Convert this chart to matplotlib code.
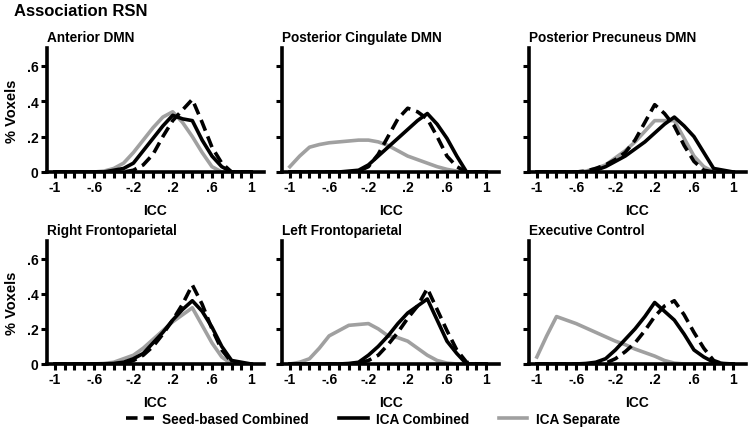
import matplotlib
matplotlib.use("Agg")
import matplotlib.pyplot as plt

plt.rcParams["font.family"] = ["Liberation Sans", "DejaVu Sans"]
plt.rcParams["font.weight"] = "bold"

# ICC bin centres
icc = [-1.0, -0.9, -0.8, -0.7, -0.6, -0.5, -0.4, -0.3, -0.2, -0.1, 0.0,
       0.1, 0.2, 0.3, 0.4, 0.5, 0.6, 0.7, 0.8, 0.9, 1.0]

titles = ["Anterior DMN", "Posterior Cingulate DMN", "Posterior Precuneus DMN",
          "Right Frontoparietal", "Left Frontoparietal", "Executive Control"]

# fraction of voxels per ICC bin
seed_combined = [
    [0, 0, 0, 0, 0, 0, 0, 0, 0.01, 0.04, 0.10, 0.20, 0.29, 0.35, 0.41, 0.28, 0.14, 0.05, 0, 0, 0],
    [0, 0, 0, 0, 0, 0, 0, 0.005, 0.03, 0.10, 0.20, 0.30, 0.36, 0.34, 0.30, 0.20, 0.09, 0.03, 0, 0, 0],
    [0, 0, 0, 0, 0, 0.005, 0.02, 0.04, 0.07, 0.11, 0.18, 0.28, 0.38, 0.33, 0.26, 0.15, 0.06, 0.01, 0, 0, 0],
    [0, 0, 0, 0, 0, 0, 0, 0.005, 0.02, 0.05, 0.10, 0.17, 0.25, 0.34, 0.45, 0.34, 0.20, 0.08, 0.01, 0, 0],
    [0, 0, 0, 0, 0, 0, 0, 0.005, 0.02, 0.05, 0.11, 0.18, 0.26, 0.33, 0.43, 0.31, 0.19, 0.08, 0.01, 0, 0],
    [0, 0, 0, 0, 0, 0, 0, 0.005, 0.03, 0.07, 0.12, 0.19, 0.27, 0.33, 0.36, 0.28, 0.18, 0.09, 0.02, 0, 0],
]
ica_combined = [
    [0, 0, 0, 0, 0, 0, 0.01, 0.02, 0.05, 0.12, 0.19, 0.26, 0.32, 0.30, 0.29, 0.18, 0.09, 0.03, 0, 0, 0],
    [0, 0, 0, 0, 0, 0, 0.005, 0.01, 0.04, 0.09, 0.14, 0.19, 0.24, 0.29, 0.33, 0.27, 0.19, 0.09, 0, 0, 0],
    [0, 0, 0, 0, 0, 0, 0.01, 0.03, 0.06, 0.09, 0.13, 0.17, 0.22, 0.27, 0.31, 0.26, 0.20, 0.11, 0.02, 0.01, 0],
    [0, 0, 0, 0, 0, 0, 0.003, 0.01, 0.03, 0.06, 0.12, 0.18, 0.25, 0.31, 0.36, 0.30, 0.21, 0.10, 0.02, 0.01, 0],
    [0, 0, 0, 0, 0, 0, 0.003, 0.01, 0.05, 0.10, 0.16, 0.23, 0.29, 0.33, 0.37, 0.25, 0.13, 0.06, 0, 0, 0],
    [0, 0, 0, 0, 0, 0.003, 0.01, 0.03, 0.08, 0.14, 0.20, 0.27, 0.35, 0.30, 0.25, 0.17, 0.08, 0.04, 0.01, 0.003, 0],
]
ica_separate = [
    [0, 0, 0, 0, 0, 0.005, 0.02, 0.05, 0.11, 0.18, 0.25, 0.31, 0.34, 0.28, 0.20, 0.11, 0.03, 0, 0, 0, 0],
    [0.03, 0.09, 0.14, 0.155, 0.165, 0.17, 0.175, 0.18, 0.18, 0.17, 0.15, 0.12, 0.09, 0.07, 0.05, 0.03, 0.015, 0.005, 0, 0, 0],
    [0, 0, 0, 0, 0, 0.005, 0.02, 0.04, 0.08, 0.12, 0.17, 0.23, 0.29, 0.29, 0.29, 0.19, 0.09, 0.03, 0, 0, 0],
    [0, 0, 0, 0, 0, 0.003, 0.01, 0.03, 0.05, 0.09, 0.14, 0.19, 0.24, 0.28, 0.32, 0.22, 0.12, 0.04, 0, 0, 0],
    [0, 0.01, 0.03, 0.09, 0.16, 0.19, 0.22, 0.225, 0.23, 0.20, 0.16, 0.15, 0.13, 0.09, 0.05, 0.02, 0.005, 0, 0, 0, 0],
    [0.04, 0.16, 0.27, 0.25, 0.23, 0.205, 0.18, 0.155, 0.13, 0.11, 0.085, 0.065, 0.045, 0.02, 0.005, 0, 0, 0, 0, 0, 0],
]

xticks = [-1, -0.6, -0.2, 0.2, 0.6, 1]
xticklabels = ["-1", "-.6", "-.2", ".2", ".6", "1"]
yticks = [0, 0.2, 0.4, 0.6]
yticklabels = ["0", ".2", ".4", ".6"]

gray = "#a0a0a0"
lw = 2.6

fig = plt.figure(figsize=(7.5, 4.35), dpi=100)
fig.text(14 / 750, 1 - 12 / 435, "Association RSN", fontsize=12,
         fontweight="bold", va="center", ha="left")

lefts = [47, 282, 529]
bottoms = [173, 365]
tops = [49, 242]
width = 217

for i in range(6):
    row, col = divmod(i, 3)
    h = bottoms[row] - tops[row]
    ax = fig.add_axes([lefts[col] / 750, (435 - bottoms[row]) / 435,
                       width / 750, h / 435])
    l3, = ax.plot(icc, ica_separate[i], color=gray, lw=lw)
    l1, = ax.plot(icc, seed_combined[i], color="black", lw=lw, dashes=(3.2, 1.7))
    l2, = ax.plot(icc, ica_combined[i], color="black", lw=lw)
    ax.set_xlim(-1.08, 1.13)
    ax.set_ylim(0, 0.70)
    for s in ["top", "right"]:
        ax.spines[s].set_visible(False)
    for s in ["left", "bottom"]:
        ax.spines[s].set_linewidth(2.6)
    ax.set_xticks(icc, minor=True)
    ax.set_xticks(xticks)
    ax.set_xticklabels(xticklabels, fontsize=10, fontweight="bold")
    ax.set_yticks(yticks)
    if col == 0:
        ax.set_yticklabels(yticklabels, fontsize=10, fontweight="bold")
        ax.set_ylabel("% Voxels", fontsize=10.5, fontweight="bold", labelpad=6)
    else:
        ax.set_yticklabels([])
    ax.tick_params(axis="both", which="both", direction="out", length=4,
                   width=2.2, pad=2)
    ax.set_xlabel("ICC", fontsize=10, fontweight="bold", labelpad=6)
    ax.text(0, 1 + 11 / h, titles[i], transform=ax.transAxes, fontsize=9.8,
            fontweight="bold", ha="left", va="center")

fig.legend([l1, l2, l3], ["Seed-based Combined", "ICA Combined", "ICA Separate"],
           loc="center", bbox_to_anchor=(0.497, 15 / 435), ncol=3, frameon=False,
           handlelength=2.1, handletextpad=0.6, columnspacing=2.2,
           prop={"weight": "bold", "size": 9.8})

fig.savefig("out.png", dpi=100)
